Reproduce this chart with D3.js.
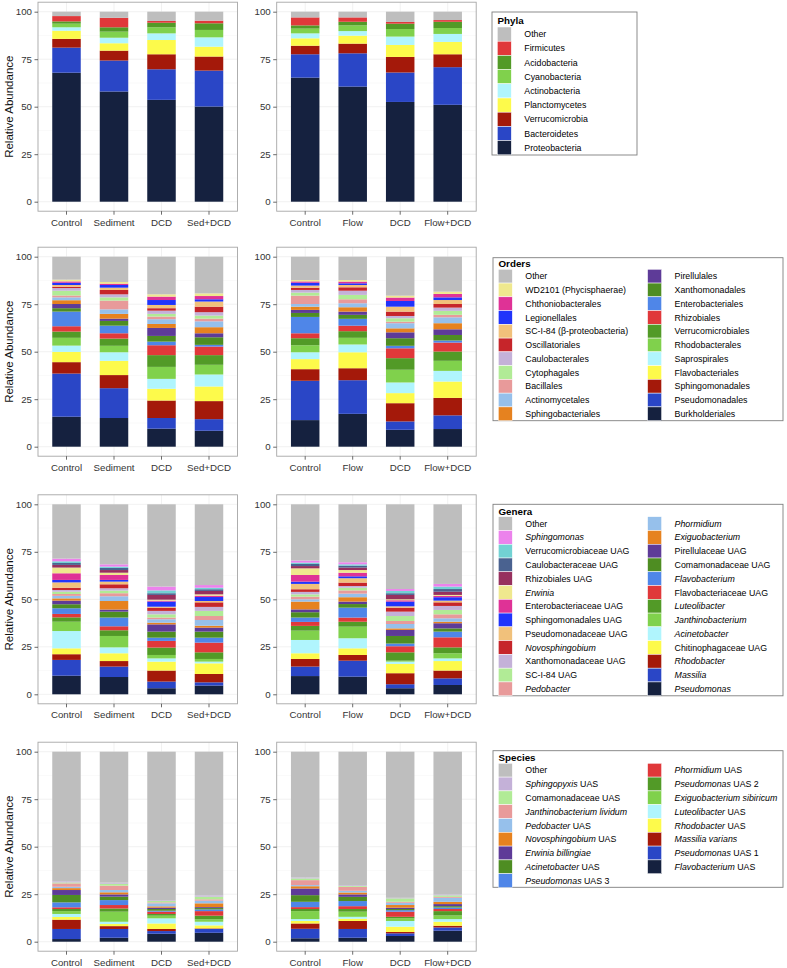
<!DOCTYPE html>
<html><head><meta charset="utf-8">
<script src="https://cdn.jsdelivr.net/npm/d3@7"></script>
<style>
body{margin:0;background:#fff;}
svg{display:block;font-family:"Liberation Sans",Arial,Helvetica,sans-serif;}
</style>
</head><body>
<svg id="chart" width="787" height="968"></svg>
<script>
// ---------------- categories & ticks ----------------
const catsSed = ["Control", "Sediment", "DCD", "Sed+DCD"];
const catsFlow = ["Control", "Flow", "DCD", "Flow+DCD"];
const yTicks = [0, 25, 50, 75, 100];

// ---------------- colours (stack order, bottom -> top) ----------------
const palette = ["#15213f", "#2a46c6", "#a4190a", "#fdfa4b", "#b0f5fd", "#80d14c", "#529a27", "#e0383a",
  "#4f86e8", "#4e8d22", "#5e3b98", "#e6821f", "#96c0eb", "#e89a9a", "#b1eb96", "#c4b1d8", "#c6252a",
  "#f1c17b", "#2034fb", "#df3296", "#efe88e", "#97305e", "#4a6290", "#72d2d3", "#ec82ec"];
const otherColor = "#bebebe";

// ---------------- taxa names (stack order, bottom -> top; *x* = italic) ----------------
const phylaNames = ["Proteobacteria", "Bacteroidetes", "Verrucomicrobia", "Planctomycetes", "Actinobacteria",
  "Cyanobacteria", "Acidobacteria", "Firmicutes", "Other"];
const orderNames = ["Burkholderiales", "Pseudomonadales", "Sphingomonadales", "Flavobacteriales", "Saprospirales",
  "Rhodobacterales", "Verrucomicrobiales", "Rhizobiales", "Enterobacteriales", "Xanthomonadales", "Pirellulales",
  "Sphingobacteriales", "Actinomycetales", "Bacillales", "Cytophagales", "Caulobacterales", "Oscillatoriales",
  "SC-I-84 (β-proteobacteria)", "Legionellales", "Chthoniobacterales", "WD2101 (Phycisphaerae)", "Other"];
const generaNames = ["*Pseudomonas*", "*Massilia*", "*Rhodobacter*", "Chitinophagaceae UAG", "*Acinetobacter*",
  "*Janthinobacterium*", "*Luteolibacter*", "Flavobacteriaceae UAG", "*Flavobacterium*", "Comamonadaceae UAG",
  "Pirellulaceae UAG", "*Exiguobacterium*", "*Phormidium*", "*Pedobacter*", "SC-I-84 UAG", "Xanthomonadaceae UAG",
  "*Novosphingobium*", "Pseudomonadaceae UAG", "Sphingomonadales UAG", "Enterobacteriaceae UAG", "*Erwinia*",
  "Rhizobiales UAG", "Caulobacteraceae UAG", "Verrucomicrobiaceae UAG", "*Sphingomonas*", "Other"];
const speciesNames = ["*Flavobacterium* UAS", "*Pseudomonas* UAS 1", "*Massilia varians*", "*Rhodobacter* UAS",
  "*Luteolibacter* UAS", "*Exiguobacterium sibiricum*", "*Pseudomonas* UAS 2", "*Phormidium* UAS",
  "*Pseudomonas* UAS 3", "*Acinetobacter* UAS", "*Erwinia billingiae*", "*Novosphingobium* UAS",
  "*Pedobacter* UAS", "*Janthinobacterium lividum*", "Comamonadaceae UAS", "*Sphingopyxis* UAS", "Other"];

// ---------------- values: one row per category, segments bottom -> top (%) ----------------
const phylaSed = [
  [67.9, 13.2, 4.6, 4.3, 1.8, 1.9, 1.2, 2.8, 2.3],
  [58.0, 16.3, 5.2, 3.9, 2.9, 3.2, 2.3, 5.0, 3.2],
  [53.6, 16.1, 7.9, 7.5, 3.5, 3.2, 2.4, 0.9, 4.9],
  [50.1, 18.9, 7.4, 5.2, 4.9, 3.9, 3.5, 1.4, 4.7]];
const phylaFlow = [
  [65.3, 12.3, 4.5, 3.9, 2.6, 2.5, 1.7, 4.2, 3.0],
  [60.6, 17.5, 5.1, 4.2, 2.4, 3.0, 1.9, 2.3, 3.0],
  [52.5, 15.5, 8.2, 6.3, 4.4, 4.0, 2.8, 0.9, 5.4],
  [51.0, 19.8, 6.8, 6.5, 4.2, 3.1, 3.3, 0.9, 4.4]];
const ordersSed = [
  [15.8, 22.7, 6.0, 5.4, 3.3, 4.1, 3.3, 2.8, 7.7, 1.8, 2.2, 2.0, 1.5, 1.0, 2.5, 1.4, 0.7, 0.9, 1.2, 0.7, 0.9, 12.1],
  [15.1, 15.7, 6.9, 7.5, 4.5, 3.4, 3.8, 2.8, 4.0, 2.5, 1.2, 2.5, 2.4, 4.6, 1.7, 1.6, 2.3, 1.2, 1.4, 0.7, 0.9, 13.3],
  [9.5, 5.6, 9.2, 6.2, 5.2, 6.3, 6.2, 5.2, 1.9, 3.0, 4.2, 2.1, 2.5, 1.4, 1.4, 1.7, 1.3, 1.7, 2.6, 1.8, 1.2, 19.8],
  [8.4, 6.1, 9.5, 7.7, 6.3, 5.1, 5.1, 4.5, 0.9, 4.0, 2.1, 3.2, 3.1, 1.4, 1.6, 1.8, 2.9, 2.7, 1.2, 1.7, 1.4, 19.3]];
const ordersFlow = [
  [14.0, 20.7, 6.1, 5.3, 3.6, 3.7, 3.7, 2.6, 8.6, 2.1, 1.6, 1.7, 1.4, 4.4, 1.6, 1.4, 1.2, 1.1, 1.5, 0.7, 0.7, 12.3],
  [17.3, 17.7, 6.3, 8.4, 4.1, 3.5, 3.5, 2.9, 3.6, 2.1, 1.7, 2.3, 2.1, 2.1, 2.3, 2.2, 1.8, 1.2, 0.9, 0.9, 0.8, 12.3],
  [8.9, 4.4, 9.6, 5.3, 5.6, 6.7, 6.1, 5.2, 1.3, 4.0, 3.1, 2.1, 2.7, 0.8, 1.8, 1.2, 2.3, 2.6, 3.0, 1.8, 1.0, 20.5],
  [9.3, 7.2, 9.2, 8.6, 5.6, 5.3, 4.9, 4.7, 1.1, 2.9, 3.0, 3.2, 3.1, 1.3, 2.1, 1.7, 1.9, 2.1, 1.4, 1.8, 1.2, 18.4]];
const generaSed = [
  [9.8, 8.3, 3.0, 3.1, 9.1, 4.9, 2.3, 1.8, 3.0, 2.1, 1.9, 1.2, 1.3, 1.0, 1.2, 0.9, 1.2, 2.8, 1.3, 3.5, 3.0, 1.4, 1.0, 0.9, 1.4, 28.6],
  [9.1, 5.5, 2.9, 4.1, 3.1, 6.0, 3.0, 2.1, 4.6, 3.1, 1.1, 4.5, 2.5, 1.6, 1.4, 1.2, 2.1, 1.4, 0.9, 2.6, 1.2, 1.4, 1.1, 0.7, 1.2, 31.6],
  [3.2, 3.5, 5.8, 4.7, 1.7, 1.8, 3.9, 3.5, 1.7, 3.2, 3.8, 0.9, 1.8, 0.9, 1.7, 1.8, 1.7, 0.5, 2.7, 0.5, 0.5, 2.5, 0.9, 1.5, 2.0, 43.3],
  [4.6, 1.7, 4.4, 5.6, 0.9, 1.4, 3.5, 5.1, 2.6, 3.2, 2.1, 1.0, 3.0, 2.1, 2.7, 2.1, 2.4, 0.7, 2.1, 0.7, 0.7, 1.8, 0.9, 0.8, 1.4, 42.5]];
const generaFlow = [
  [9.6, 5.0, 4.0, 3.0, 7.0, 4.9, 2.5, 2.1, 2.3, 2.8, 1.5, 4.1, 1.2, 1.4, 1.2, 1.3, 1.4, 2.8, 1.2, 3.5, 3.5, 1.2, 1.1, 0.7, 1.1, 29.6],
  [9.3, 8.4, 3.0, 3.5, 5.3, 6.1, 2.6, 2.2, 5.2, 1.9, 1.3, 2.3, 1.9, 1.7, 1.4, 0.9, 1.8, 2.3, 1.0, 1.9, 1.4, 1.3, 1.0, 0.7, 1.1, 30.5],
  [3.2, 2.1, 5.8, 4.9, 1.2, 0.5, 4.4, 3.2, 1.4, 4.0, 3.2, 0.8, 2.3, 1.6, 2.6, 2.3, 2.1, 0.7, 2.5, 0.7, 0.5, 2.3, 0.9, 1.2, 1.0, 44.6],
  [4.9, 3.5, 4.1, 5.0, 1.4, 2.7, 3.1, 5.3, 3.0, 1.7, 2.7, 0.8, 1.8, 2.1, 2.3, 2.1, 1.9, 0.9, 1.8, 0.7, 0.5, 1.7, 1.4, 1.3, 1.4, 41.9]];
const speciesSed = [
  [1.4, 5.3, 4.9, 1.4, 1.6, 1.5, 1.1, 0.9, 2.6, 3.9, 2.6, 1.0, 0.7, 1.8, 0.5, 0.6, 68.2],
  [2.1, 4.6, 1.5, 1.1, 1.2, 5.3, 1.7, 1.8, 2.6, 1.8, 1.2, 1.1, 1.2, 2.3, 1.0, 0.6, 68.9],
  [4.2, 1.4, 1.1, 2.9, 2.7, 1.4, 0.9, 1.2, 0.5, 0.9, 0.7, 0.7, 1.6, 0.5, 0.7, 0.4, 78.2],
  [4.7, 2.0, 0.3, 1.6, 1.9, 1.3, 1.9, 2.4, 0.9, 0.7, 0.5, 2.0, 1.4, 0.7, 1.4, 0.7, 75.6]];
const speciesFlow = [
  [1.8, 5.0, 2.8, 1.3, 1.0, 4.2, 1.1, 1.0, 2.8, 3.5, 3.5, 1.2, 0.6, 2.6, 0.9, 0.5, 66.2],
  [2.1, 4.6, 4.2, 1.2, 1.0, 2.7, 1.4, 1.5, 2.7, 2.2, 1.3, 1.0, 0.9, 2.1, 0.5, 0.4, 70.2],
  [3.0, 1.4, 0.7, 2.8, 3.0, 1.4, 0.8, 2.7, 0.8, 0.6, 0.7, 1.4, 1.2, 0.5, 1.8, 0.3, 76.9],
  [5.8, 1.7, 0.9, 2.1, 1.4, 1.9, 2.3, 1.1, 0.8, 0.7, 1.1, 1.2, 2.1, 0.5, 0.8, 0.5, 75.1]];

// ---------------- layout ----------------
const svg = d3.select("#chart");
const W = 199.5, H = 209;
const colX = [38, 276.7];
const rowY = [2.2, 247.2, 494.8, 742.2];

const levels = [
  {title: "Phyla", names: phylaNames, sed: phylaSed, flow: phylaFlow,
   box: [492, 12, 145, 143], titleY: 23.5, keyY: 27, step: 14.2, nrow: 9},
  {title: "Orders", names: orderNames, sed: ordersSed, flow: ordersFlow,
   box: [493, 257.7, 290, 163], titleY: 267.3, keyY: 269.3, step: 13.76, nrow: 11},
  {title: "Genera", names: generaNames, sed: generaSed, flow: generaFlow,
   box: [493, 504.3, 290, 191.5], titleY: 514.8, keyY: 516.7, step: 13.77, nrow: 13},
  {title: "Species", names: speciesNames, sed: speciesSed, flow: speciesFlow,
   box: [493, 750.7, 290, 136.6], titleY: 760.5, keyY: 763.3, step: 13.8, nrow: 9}
];

function colorsFor(names) {
  return names.map((n, i) => n === "Other" ? otherColor : palette[i]);
}

function addRichText(sel, label) {
  const parts = label.split("*");
  parts.forEach((p, i) => {
    if (p === "") return;
    sel.append("tspan").attr("font-style", i % 2 === 1 ? "italic" : "normal").text(p);
  });
}

function drawPanel(x0, y0, cats, values, names, showYLabel) {
  const colors = colorsFor(names);
  const g = svg.append("g").attr("transform", `translate(${x0},${y0})`);
  const x = d3.scaleBand().domain(cats).range([0, W]).paddingInner(0.4).paddingOuter(0.3);
  const y = d3.scaleLinear().domain([-5, 105]).range([H, 0]);

  g.append("rect").attr("width", W).attr("height", H).attr("fill", "#fff");
  // minor grid
  const minor = [12.5, 37.5, 62.5, 87.5];
  g.selectAll(".mn").data(minor).enter().append("line")
    .attr("x1", 0).attr("x2", W).attr("y1", d => y(d)).attr("y2", d => y(d))
    .attr("stroke", "#f5f5f5").attr("stroke-width", 0.5);
  g.selectAll(".mj").data(yTicks).enter().append("line")
    .attr("x1", 0).attr("x2", W).attr("y1", d => y(d)).attr("y2", d => y(d))
    .attr("stroke", "#e8e8e8").attr("stroke-width", 0.6);
  g.selectAll(".vj").data(cats).enter().append("line")
    .attr("y1", 0).attr("y2", H).attr("x1", d => x(d) + x.bandwidth() / 2).attr("x2", d => x(d) + x.bandwidth() / 2)
    .attr("stroke", "#e8e8e8").attr("stroke-width", 0.6);

  // stacked bars
  const keys = names.map((n, i) => i);
  const rows = values.map((v, ci) => {
    const o = {cat: cats[ci]};
    v.forEach((val, k) => o[k] = val);
    return o;
  });
  const series = d3.stack().keys(keys)(rows);
  series.forEach((s, k) => {
    g.selectAll(null).data(s).enter().append("rect")
      .attr("x", d => x(d.data.cat))
      .attr("width", x.bandwidth())
      .attr("y", d => y(d[1]))
      .attr("height", d => Math.max(0, y(d[0]) - y(d[1])))
      .attr("fill", colors[k]);
  });

  g.append("rect").attr("width", W).attr("height", H).attr("fill", "none")
    .attr("stroke", "#a6a6a6").attr("stroke-width", 0.9);

  const ya = g.append("g").call(d3.axisLeft(y).tickValues(yTicks).tickSize(3.5).tickPadding(2.5));
  ya.select(".domain").remove();
  ya.selectAll("line").attr("stroke", "#444").attr("stroke-width", 0.8);
  ya.selectAll("text").attr("fill", "#333").style("font-size", "9.7px").style("font-family", "'Liberation Sans',Arial,sans-serif");

  const xa = g.append("g").attr("transform", `translate(0,${H})`)
    .call(d3.axisBottom(x).tickSize(3.5).tickPadding(4));
  xa.select(".domain").remove();
  xa.selectAll("line").attr("stroke", "#444").attr("stroke-width", 0.8);
  xa.selectAll("text").attr("fill", "#333").style("font-size", "9.7px").style("font-family", "'Liberation Sans',Arial,sans-serif");

  if (showYLabel) {
    svg.append("text")
      .attr("transform", `translate(13,${y0 + H / 2}) rotate(-90)`)
      .attr("text-anchor", "middle")
      .style("font-size", "11.5px").attr("fill", "#111")
      .text("Relative Abundance");
  }
}

function drawLegend(lv) {
  const colors = colorsFor(lv.names);
  const [bx, by, bw, bh] = lv.box;
  const g = svg.append("g");
  g.append("rect").attr("x", bx).attr("y", by).attr("width", bw).attr("height", bh)
    .attr("fill", "#fff").attr("stroke", "#7f7f7f").attr("stroke-width", 0.9);
  g.append("text").attr("x", bx + 5.5).attr("y", lv.titleY)
    .style("font-size", "9.8px").style("font-weight", "bold").attr("fill", "#000").text(lv.title);
  const items = lv.names.map((n, i) => ({name: n, color: colors[i]})).reverse();
  const colOffsets = [0, 149.3];
  items.forEach((it, i) => {
    const col = Math.floor(i / lv.nrow), row = i % lv.nrow;
    const kx = bx + 5.3 + colOffsets[col];
    const ky = lv.keyY + row * lv.step;
    g.append("rect").attr("x", kx).attr("y", ky).attr("width", 14).attr("height", lv.step)
      .attr("fill", it.color).attr("stroke", "#fff").attr("stroke-width", 0.5);
    const t = g.append("text").attr("x", kx + 27).attr("y", ky + lv.step / 2 + 3.1)
      .style("font-size", "8.8px").attr("fill", "#000");
    addRichText(t, it.name);
  });
}

levels.forEach((lv, r) => {
  drawPanel(colX[0], rowY[r], catsSed, lv.sed, lv.names, true);
  drawPanel(colX[1], rowY[r], catsFlow, lv.flow, lv.names, false);
  drawLegend(lv);
});
</script>
</body></html>
